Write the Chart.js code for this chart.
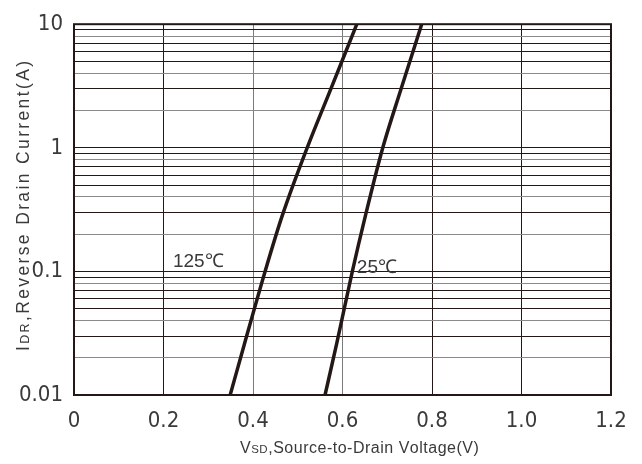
<!DOCTYPE html>
<html>
<head>
<meta charset="utf-8">
<script src="https://cdn.jsdelivr.net/npm/chart.js@4/dist/chart.umd.min.js"></script>
<style>
  html, body { margin: 0; padding: 0; background: #ffffff; }
  #wrap { width: 642px; height: 464px; }
</style>
</head>
<body>
<div id="wrap"><canvas id="c" width="642" height="464"></canvas></div>
<script>
// ---- data ----
const xTicks = [0, 0.2, 0.4, 0.6, 0.8, 1.0, 1.2];
const xTickLabels = ['0', '0.2', '0.4', '0.6', '0.8', '1.0', '1.2'];
const yDecades = [0.01, 0.1, 1, 10];
const yDecadeLabels = ['0.01', '0.1', '1', '10'];

const vsd125 = [0.349, 0.381, 0.427, 0.465, 0.521, 0.574, 0.632];
const idr125 = [0.01, 0.026, 0.1, 0.28, 1, 3, 10];
const vsd25 = [0.561, 0.587, 0.622, 0.651, 0.690, 0.731, 0.777];
const idr25 = [0.01, 0.026, 0.1, 0.28, 1, 3, 10];

const curveLabels = ['125℃', '25℃'];
const curveLabelPosX = [0.221, 0.632];
const curveLabelPosY = [0.119, 0.107];

// minor gridline multipliers drawn in lighter grey
const greyMultipliers = [2, 4, 8];

const NARROW = "'Liberation Sans Narrow', 'DejaVu Sans Condensed', 'Liberation Sans', sans-serif";
const FONT = "'Liberation Sans', Arial, sans-serif";
const TXT = '#3a3a3a';
const INK = '#231815';

function pts(xs, ys) { return xs.map((x, i) => ({ x: x, y: ys[i] })); }

const yAllTicks = [];
yDecades.forEach((d, i) => {
  if (i === yDecades.length - 1) { yAllTicks.push(d); return; }
  for (let m = 1; m <= 9; m++) yAllTicks.push(+(d * m).toPrecision(3));
});

const overlay = {
  id: 'overlay',
  afterDraw(chart) {
    const ctx = chart.ctx;
    const a = chart.chartArea;
    const xs = chart.scales.x, ys = chart.scales.y;
    ctx.save();
    // frame
    ctx.strokeStyle = INK;
    ctx.lineWidth = 2;
    ctx.strokeRect(a.left, a.top, a.right - a.left, a.bottom - a.top);
    // curve labels
    ctx.fillStyle = TXT;
    ctx.font = "19px " + FONT;
    ctx.textBaseline = 'middle';
    ctx.textAlign = 'left';
    curveLabels.forEach((t, i) => {
      ctx.fillText(t, xs.getPixelForValue(curveLabelPosX[i]), ys.getPixelForValue(curveLabelPosY[i]));
    });
    // titles with small-caps subscript, spread to the reference width
    function drawParts(parts, target, x0, y0) {
      let w = 0, n = 0;
      parts.forEach(p => { ctx.font = p[1] + "px " + FONT; w += ctx.measureText(p[0]).width; n += p[0].length; });
      const sp = (target - w) / (n - 1);
      let x = x0 - target / 2;
      parts.forEach(p => {
        ctx.font = p[1] + "px " + FONT;
        for (const ch of p[0]) { ctx.fillText(ch, x, y0); x += ctx.measureText(ch).width + sp; }
      });
    }
    ctx.textBaseline = 'alphabetic';
    ctx.textAlign = 'left';
    drawParts([['V', 16], ['SD', 11.5], [',Source-to-Drain Voltage(V)', 16]], 238, 359, 453);
    ctx.translate(29, 206);
    ctx.rotate(-Math.PI / 2);
    drawParts([['I', 17.5], ['DR', 12.5], [',Reverse Drain Current(A)', 17.5]], 290, 0, 0);
    ctx.restore();
  }
};

new Chart(document.getElementById('c'), {
  type: 'line',
  data: {
    datasets: [
      { label: curveLabels[0], data: pts(vsd125, idr125), borderColor: INK, borderWidth: 3.5, pointRadius: 0, cubicInterpolationMode: 'monotone', fill: false },
      { label: curveLabels[1], data: pts(vsd25, idr25), borderColor: INK, borderWidth: 3.5, pointRadius: 0, cubicInterpolationMode: 'monotone', fill: false }
    ]
  },
  options: {
    responsive: false,
    animation: false,
    devicePixelRatio: 1,
    layout: { padding: { left: 0, right: 31, top: 13, bottom: 0 } },
    plugins: { legend: { display: false }, tooltip: { enabled: false } },
    scales: {
      x: {
        type: 'linear',
        min: 0, max: 1.2,
        afterBuildTicks(s) { s.ticks = xTicks.map(v => ({ value: v })); },
        afterFit(s) { s.height = 69; },
        ticks: {
          padding: 13,
          color: TXT,
          font: { family: NARROW, size: 22 },
          maxRotation: 0,
          callback: (v) => { const i = xTicks.findIndex(t => Math.abs(t - v) < 1e-9); return i >= 0 ? xTickLabels[i] : ''; }
        },
        grid: {
          color: (c) => { const v = c.tick ? c.tick.value : 0; return (Math.abs(v - 0.4) < 1e-6 || Math.abs(v - 0.6) < 1e-6) ? '#7a7a7a' : INK; },
          lineWidth: 1,
          drawTicks: false
        },
        border: { display: false }
      },
      y: {
        type: 'logarithmic',
        min: 0.01, max: 10,
        afterBuildTicks(s) { s.ticks = yAllTicks.map(v => ({ value: v })); },
        afterFit(s) { s.width = 74; },
        ticks: {
          padding: 11,
          color: TXT,
          font: { family: NARROW, size: 22 },
          autoSkip: false,
          callback: (v) => { const i = yDecades.findIndex(t => Math.abs(t - v) / t < 1e-6); return i >= 0 ? yDecadeLabels[i] : ''; }
        },
        grid: {
          color: (c) => {
            const v = c.tick ? c.tick.value : 1;
            const m = Math.round(v / Math.pow(10, Math.floor(Math.log10(v) + 1e-9)));
            return greyMultipliers.includes(m) ? '#8a8a8a' : INK;
          },
          lineWidth: 1,
          drawTicks: false
        },
        border: { display: false }
      }
    }
  },
  plugins: [overlay]
});
</script>
</body>
</html>
